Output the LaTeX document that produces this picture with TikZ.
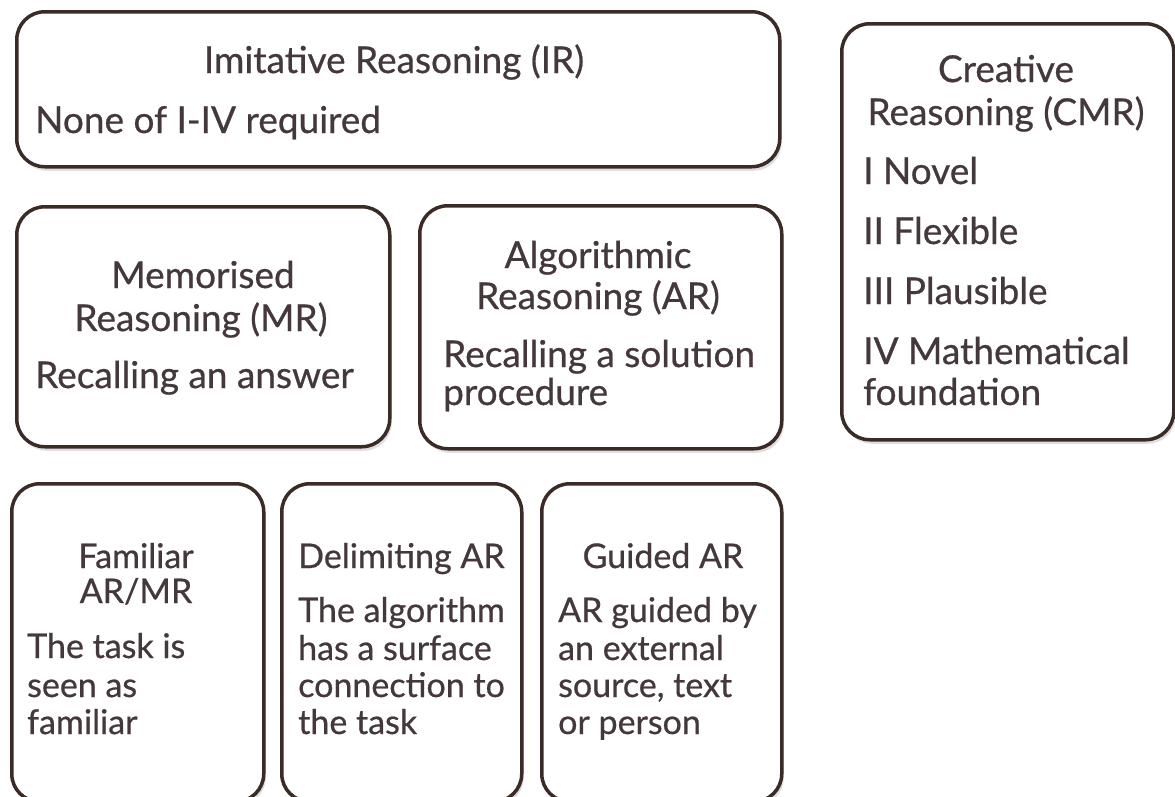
\documentclass[tikz,border=0pt]{standalone}
\usepackage{fontspec}
\setmainfont{Lato}[FakeBold=0.6]
\usetikzlibrary{shadows}
\definecolor{edge}{HTML}{3B2B26}
\definecolor{ink}{HTML}{45383A}
\tikzset{
  box/.style={draw=edge, line width=3.5pt, rounded corners=28pt, fill=white,
    anchor=north west, inner sep=0pt,
    drop shadow={opacity=0.25, shadow xshift=2pt, shadow yshift=-4pt}},
  big/.style={font=\fontsize{37}{44}\selectfont},
  small/.style={font=\fontsize{34}{40}\selectfont},
  head/.style={anchor=base, text=ink, inner sep=0pt, big},
  body/.style={anchor=base west, text=ink, inner sep=0pt, big},
}
\begin{document}
\begin{tikzpicture}[x=1pt, y=-1pt]
\useasboundingbox (0,0) rectangle (1175,796);
\clip (0,0) rectangle (1175,796);
% frames
\node[box, minimum width=763pt, minimum height=155pt] (ir) at (15,10) {};
\node[box, minimum width=332pt, minimum height=416pt] (cmr) at (840,22) {};
\node[box, minimum width=373pt, minimum height=240pt] (mr) at (15,205) {};
\node[box, minimum width=362pt, minimum height=243pt] (ar) at (418,204) {};
\node[box, minimum width=252pt, minimum height=318pt] (fam) at (10,482) {};
\node[box, minimum width=240pt, minimum height=318pt] (del) at (280,482) {};
\node[box, minimum width=240pt, minimum height=318pt] (gui) at (540,482) {};
% imitative reasoning
\node[head] (irh) at (394,73) {Imitative Reasoning (IR)};
\node[body] (irb) at (35,133) {None of I-IV required};
% creative reasoning
\node[head] (cmr1) at (1006,82) {Creative};
\node[head] (cmr2) at (1006,125) {Reasoning (CMR)};
\node[body] (cmr3) at (863,184) {I Novel};
\node[body] (cmr4) at (863,244) {II Flexible};
\node[body] (cmr5) at (863,304) {III Plausible};
\node[body] (cmr6) at (863,364) {IV Mathematical};
\node[body] (cmr7) at (863,405) {foundation};
% memorised reasoning
\node[head] (mr1) at (203,288) {Memorised};
\node[head] (mr2) at (201,331) {Reasoning (MR)};
\node[body] (mr3) at (35,388) {Recalling an answer};
% algorithmic reasoning
\node[head] (ar1) at (598,268) {Algorithmic};
\node[head] (ar2) at (598,309) {Reasoning (AR)};
\node[body] (ar3) at (443,367) {Recalling a solution};
\node[body] (ar4) at (443,405) {procedure};
% familiar AR/MR
\node[head, small] (fa1) at (136,568) {Familiar};
\node[head, small] (fa2) at (136,603) {AR/MR};
\node[body, small] (fa3) at (27,658) {The task is};
\node[body, small] (fa4) at (27,697) {seen as};
\node[body, small] (fa5) at (27,734) {familiar};
% delimiting AR
\node[body, small] (de1) at (298,568) {Delimiting AR};
\node[body, small] (de2) at (298,622) {The algorithm};
\node[body, small] (de3) at (298,660) {has a surface};
\node[body, small] (de4) at (298,697) {connection to};
\node[body, small] (de5) at (298,734) {the task};
% guided AR
\node[head, small] (gu1) at (663,568) {Guided AR};
\node[body, small] (gu2) at (558,622) {AR guided by};
\node[body, small] (gu3) at (558,660) {an external};
\node[body, small] (gu4) at (558,697) {source, text};
\node[body, small] (gu5) at (558,734) {or person};
\end{tikzpicture}
\end{document}
